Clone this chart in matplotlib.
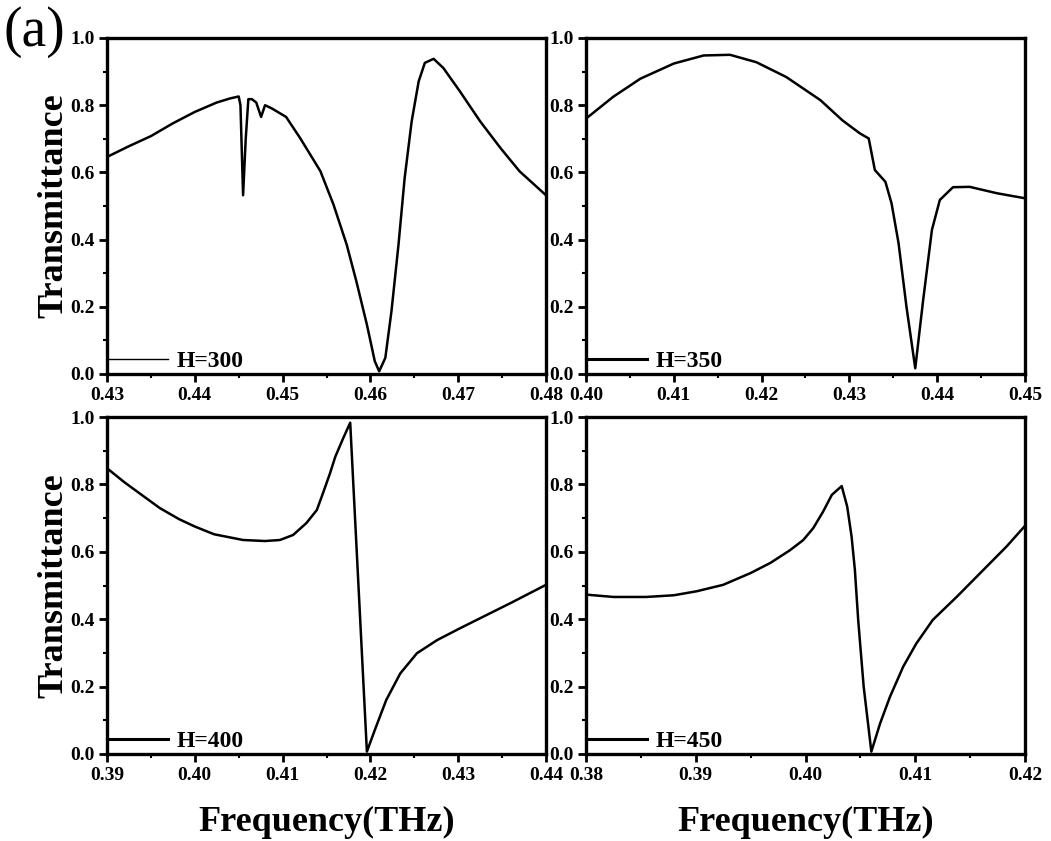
import matplotlib
matplotlib.use("Agg")
import matplotlib.pyplot as plt
from matplotlib.ticker import MultipleLocator, AutoMinorLocator

plt.rcParams["font.family"] = ["Liberation Serif", "DejaVu Serif"]
plt.rcParams["font.weight"] = "bold"

# H = 300 nm
f300 = [0.4300, 0.4325, 0.4350, 0.4375, 0.4400, 0.4425, 0.4440, 0.4450, 0.4452,
        0.4455, 0.4458, 0.4461, 0.4465, 0.4470, 0.44755, 0.4480, 0.4488, 0.4504,
        0.4520, 0.4543, 0.4558, 0.4573, 0.4584, 0.4596, 0.4605, 0.4610, 0.4617,
        0.4624, 0.4632, 0.4639, 0.4647, 0.4655, 0.4662, 0.4672, 0.4683, 0.4702,
        0.4725, 0.4748, 0.4770, 0.4800]
t300 = [0.646, 0.678, 0.708, 0.746, 0.780, 0.808, 0.820, 0.826, 0.800,
        0.532, 0.700, 0.818, 0.818, 0.808, 0.765, 0.800, 0.790, 0.765,
        0.702, 0.604, 0.504, 0.385, 0.276, 0.147, 0.038, 0.008, 0.048,
        0.187, 0.385, 0.583, 0.752, 0.871, 0.926, 0.938, 0.911, 0.841,
        0.752, 0.673, 0.603, 0.532]

# H = 350 nm
f350 = [0.4000, 0.4031, 0.4062, 0.4100, 0.4134, 0.4164, 0.4194, 0.4228, 0.4267,
        0.4292, 0.4312, 0.4322, 0.4329, 0.4341, 0.4348, 0.4356, 0.4365, 0.4375,
        0.4384, 0.4394, 0.4403, 0.4418, 0.4437, 0.4468, 0.4500]
t350 = [0.760, 0.825, 0.879, 0.924, 0.948, 0.950, 0.928, 0.884, 0.815,
        0.755, 0.716, 0.701, 0.607, 0.572, 0.508, 0.389, 0.200, 0.017,
        0.220, 0.429, 0.518, 0.556, 0.557, 0.538, 0.523]

# H = 400 nm
f400 = [0.3900, 0.3920, 0.3941, 0.3960, 0.3982, 0.4000, 0.4022, 0.4055, 0.4080,
        0.4097, 0.4112, 0.4127, 0.4139, 0.4146, 0.4154, 0.4160, 0.4169, 0.4177,
        0.4196, 0.4205, 0.4218, 0.4234, 0.4253, 0.4276, 0.4302, 0.4332, 0.4359,
        0.4400]
t400 = [0.848, 0.806, 0.766, 0.730, 0.697, 0.675, 0.652, 0.635, 0.632,
        0.635, 0.650, 0.685, 0.724, 0.774, 0.833, 0.882, 0.937, 0.983,
        0.007, 0.071, 0.160, 0.239, 0.299, 0.338, 0.373, 0.412, 0.447,
        0.502]

# H = 450 nm
f450 = [0.3800, 0.3825, 0.3855, 0.3880, 0.3901, 0.3925, 0.3950, 0.3968, 0.3986,
        0.3998, 0.4007, 0.4016, 0.4024, 0.4033, 0.4038, 0.4042, 0.4045, 0.4048,
        0.4053, 0.4060, 0.4068, 0.4077, 0.4089, 0.4101, 0.4116, 0.4138, 0.4162,
        0.4183, 0.4200]
t450 = [0.473, 0.466, 0.466, 0.471, 0.483, 0.502, 0.537, 0.567, 0.605,
        0.635, 0.670, 0.719, 0.769, 0.795, 0.734, 0.645, 0.546, 0.398,
        0.200, 0.007, 0.091, 0.170, 0.259, 0.328, 0.398, 0.467, 0.546,
        0.615, 0.677]

panels = [
    (f300, t300, "H=300", (0.43, 0.48), [0.43, 0.44, 0.45, 0.46, 0.47, 0.48]),
    (f350, t350, "H=350", (0.40, 0.45), [0.40, 0.41, 0.42, 0.43, 0.44, 0.45]),
    (f400, t400, "H=400", (0.39, 0.44), [0.39, 0.40, 0.41, 0.42, 0.43, 0.44]),
    (f450, t450, "H=450", (0.38, 0.42), [0.38, 0.39, 0.40, 0.41, 0.42]),
]

fig = plt.figure(figsize=(10.51, 8.41), dpi=100)
W, H = 1051, 841
boxes = [(107, 38, 546, 374), (586, 38, 1025, 374),
         (107, 417, 546, 754), (586, 417, 1025, 754)]

axes = []
for (x0, y0, x1, y1) in boxes:
    axes.append(fig.add_axes([x0 / W, 1 - y1 / H, (x1 - x0) / W, (y1 - y0) / H]))

for i, (ax, (f, t, name, xlim, xt)) in enumerate(zip(axes, panels)):
    ax.plot(f, t, color="black", lw=1.8, label=name)
    ax.set_xlim(*xlim)
    ax.set_ylim(0, 1.0)
    ax.set_xticks(xt)
    ax.set_xticklabels(["%.2f" % v for v in xt])
    ax.yaxis.set_major_locator(MultipleLocator(0.2))
    ax.xaxis.set_minor_locator(AutoMinorLocator(2))
    ax.yaxis.set_minor_locator(AutoMinorLocator(2))
    ax.tick_params(which="major", direction="out", length=6, width=2,
                   labelsize=14, pad=3)
    ax.tick_params(which="minor", direction="out", length=3, width=1.5)
    for lab in ax.get_xticklabels() + ax.get_yticklabels():
        lab.set_fontweight("bold")
    for sp in ax.spines.values():
        sp.set_linewidth(2.4)

    leg = ax.legend(loc="lower left", bbox_to_anchor=(0.0, 0.005),
                    frameon=False, borderaxespad=0, borderpad=0,
                    handlelength=2.6, handletextpad=0.35,
                    prop={"family": "Liberation Serif", "weight": "bold",
                          "size": 17})
    leg.get_lines()[0].set_linewidth(1.0 if i == 0 else 2.2)

    if i % 2 == 0:
        ax.set_ylabel("Transmittance", fontsize=26, fontweight="bold",
                      labelpad=0)
    if i >= 2:
        ax.set_xlabel("Frequency(THz)", fontsize=26, fontweight="bold",
                      labelpad=16)

fig.text(0.003, 0.993, "(a)", fontsize=40, fontweight="normal",
         ha="left", va="top")

fig.savefig("out.png", dpi=100)
